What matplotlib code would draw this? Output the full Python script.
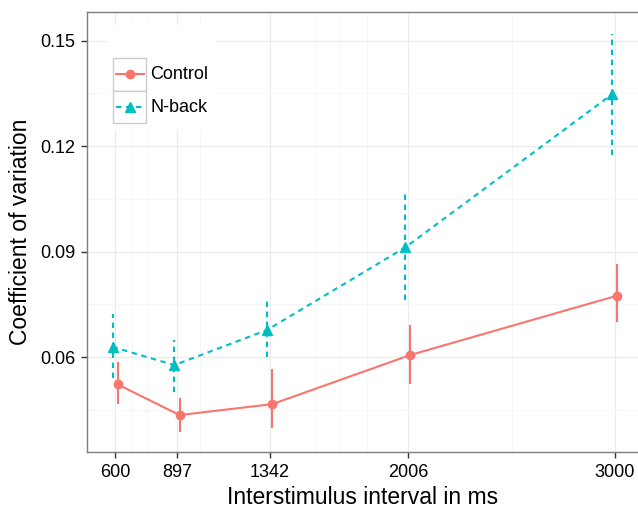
import numpy as np
import matplotlib.pyplot as plt
from matplotlib.patches import Rectangle
from matplotlib.lines import Line2D

plt.rcParams['font.family'] = ['Liberation Sans', 'DejaVu Sans']

# data
isi = np.array([600, 897, 1342, 2006, 3000])
control_mean = [0.0522, 0.0435, 0.0466, 0.0606, 0.0775]
control_lo = [0.0466, 0.0388, 0.0397, 0.0522, 0.0700]
control_hi = [0.0587, 0.0483, 0.0566, 0.0691, 0.0864]
nback_mean = [0.0629, 0.0577, 0.0677, 0.0912, 0.1348]
nback_lo = [0.0539, 0.0501, 0.0599, 0.0762, 0.1174]
nback_hi = [0.0722, 0.0648, 0.0760, 0.1063, 0.1520]

y_ticks = [0.06, 0.09, 0.12, 0.15]
y_labels = ['0.06', '0.09', '0.12', '0.15']

red = '#F8766D'
cyan = '#00BFC4'
dash = (0, (2.6, 2.2))
dodge = 12.5
lw = 1.5

W, H = 638, 509
fig = plt.figure(figsize=(W / 100, H / 100), dpi=100)
# panel box in pixels: left 87, right 638, top 12, bottom 452
ax = fig.add_axes([87 / W, 1 - 452 / H, (638 - 87) / W, 440 / H])

# grid
for x in isi:
    ax.axvline(x, color='#EBEBEB', lw=0.9, zorder=0)
for x in [682, 754, 1009, 1567, 1673, 1812, 2505]:
    ax.axvline(x, color='#F6F6F6', lw=0.7, zorder=0)
for y in y_ticks:
    ax.axhline(y, color='#EBEBEB', lw=0.9, zorder=0)
for y in [0.045, 0.075, 0.105, 0.135]:
    ax.axhline(y, color='#F6F6F6', lw=0.7, zorder=0)


def draw(xs, mean, lo, hi, color, marker, ms, ls):
    ax.plot(xs, mean, color=color, lw=lw, ls=ls, zorder=3)
    ax.vlines(xs, lo, hi, color=color, lw=lw, linestyles=[ls], zorder=3)
    ax.plot(xs, mean, ls='none', marker=marker, ms=ms, color=color, zorder=4)


draw(isi - dodge, nback_mean, nback_lo, nback_hi, cyan, '^', 7, dash)
draw(isi + dodge, control_mean, control_lo, control_hi, red, 'o', 6, '-')

ax.set_xlim(465, 3111)
ax.set_ylim(0.03299, 0.15816)
ax.set_xticks(isi)
ax.set_xticklabels([str(v) for v in isi])
ax.set_yticks(y_ticks)
ax.set_yticklabels(y_labels)
ax.tick_params(length=4.5, width=1, color='#333333', labelsize=13,
               labelcolor='black', pad=4)

for side in ['left', 'bottom', 'top']:
    ax.spines[side].set_color('#7F7F7F')
    ax.spines[side].set_linewidth(1)
ax.spines['right'].set_visible(False)

ax.set_xlabel('Interstimulus interval in ms', fontsize=16.5, labelpad=4)
ax.set_ylabel('Coefficient of variation', fontsize=16.5, labelpad=6)


# legend drawn in pixel space of the panel
def fx(px):
    return (px - 87) / 551


def fy(py):
    return (452 - py) / 440


t = ax.transAxes
ax.add_patch(Rectangle((fx(107), fy(130)), fx(216) - fx(107), fy(25) - fy(130),
                       transform=t, facecolor='white', edgecolor='none', zorder=5))
keys = [('Control', red, 'o', 6, '-', 58),
        ('N-back', cyan, '^', 7, dash, 90.7)]
for label, color, marker, ms, ls, top in keys:
    ax.add_patch(Rectangle((fx(113), fy(top + 32.5)), fx(146) - fx(113),
                           fy(top) - fy(top + 32.5), transform=t,
                           facecolor='white', edgecolor='#CCCCCC', lw=1, zorder=6))
    yc = fy(top + 16.3)
    ax.add_line(Line2D([fx(115.5), fx(143.5)], [yc, yc], transform=t, color=color,
                       lw=lw, ls=ls, zorder=7))
    ax.add_line(Line2D([fx(129.5)], [yc], transform=t, color=color, marker=marker,
                       ms=ms, ls='none', zorder=7))
    ax.text(fx(150), yc, label, transform=t, fontsize=13, va='center',
            ha='left', zorder=7)

fig.savefig('out.png', dpi=100)
